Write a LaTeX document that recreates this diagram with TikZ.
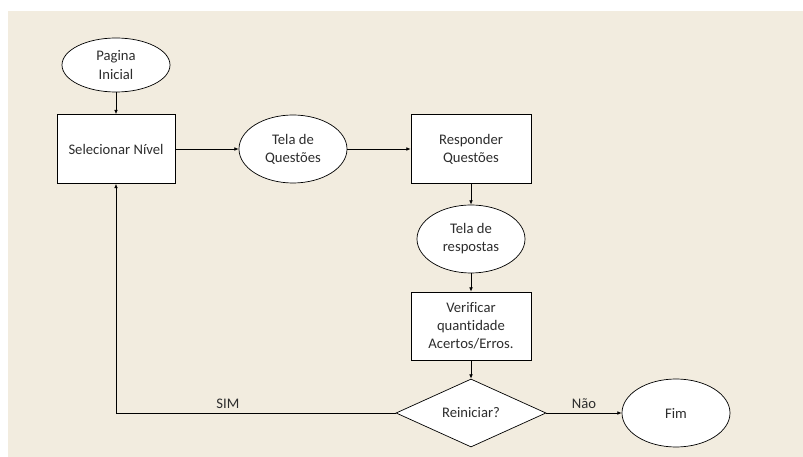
\documentclass[tikz,border=0pt]{standalone}
\usepackage{fontspec}
\setmainfont{Carlito}[Ligatures=NoCommon]
\usepackage{tikz}
\usetikzlibrary{positioning, shapes.geometric, arrows.meta}
\definecolor{papel}{RGB}{242,236,223}
\definecolor{texto}{RGB}{45,45,45}
\tikzset{
	telanode/.style={draw, ellipse, fill=white, minimum width=3.24cm, minimum height=2.04cm, align=center, inner sep=1pt}
}
\tikzset{
	acaobox/.style={draw, rectangle, fill=white, minimum width=3.6cm, minimum height=2.07cm, align=center, inner sep=1pt}
}
\tikzset{
	decisao/.style={draw, diamond, fill=white, aspect=2.2, minimum width=4.5cm, minimum height=2.04cm, inner sep=1pt}
}
\tikzset{
	rotulo/.style={font=\fontsize{12.5}{15.5}\selectfont\color{texto}}
}

\begin{document}
\begin{tikzpicture}[x=0.03cm, y=-0.03cm, >={Latex[length=1.3mm, width=1.1mm]}, line width=0.6pt, every node/.style={rotulo}]
      \useasboundingbox (0,0) rectangle (803,457);
      \fill[white] (0,0) rectangle (803,457);
      \fill[papel] (8,11) rectangle (803,457);
      \node[telanode, minimum height=1.62cm] (P) at (116,65) {Pagina\\Inicial};
      \node[acaobox, minimum width=3.54cm] (S) at (116,149) {Selecionar Nível};
      \node[telanode] (TQ) at (293,149) {Tela de\\Questões};
      \node[acaobox] (R) at (471,149) {Responder\\Questões};
      \node[telanode] (TR) at (471,239) {Tela de\\respostas};
      \node[acaobox, minimum height=2.04cm] (V) at (471,326) {Verificar\\quantidade\\Acertos/Erros.};
      \node[decisao] (D) at (471,413) {Reiniciar?};
      \node[telanode] (F) at (676,413) {Fim};
      \draw[->] (P) -- (S);
      \draw[->] (S) -- (TQ);
      \draw[->] (TQ) -- (R);
      \draw[->] (R) -- (TR);
      \draw[->] (TR) -- (V);
      \draw[->] (V) -- (D);
      \draw[->] (D) -- node[above] {Não} (F);
      \draw[->] (D.west) -| node[pos=0.3, above] {SIM} (S.south);
    \end{tikzpicture}
\end{document}
